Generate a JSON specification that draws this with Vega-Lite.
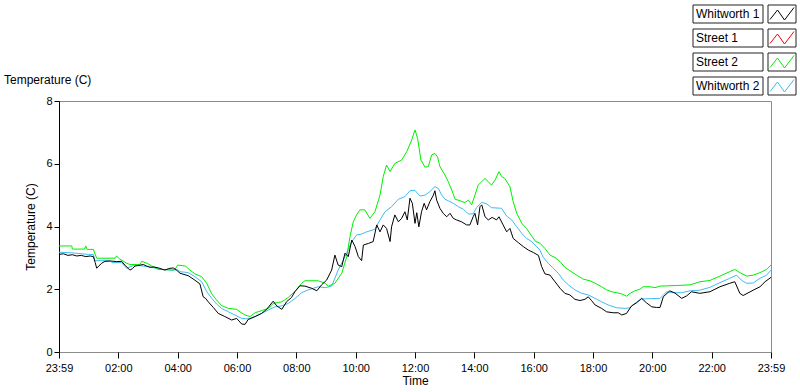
{
"$schema": "https://vega.github.io/schema/vega-lite/v6.json",
"width": 712, "height": 251,
"autosize": {"type": "none"},
"padding": {"left": 59, "top": 101, "right": 29, "bottom": 40},
"background": "white",
"config": {"view": {"stroke": "#8c8c8c", "strokeWidth": 1}, "font": "Liberation Sans"},
"title": {"text": "Temperature (C)", "anchor": "start", "frame": "group", "dx": -55, "dy": 91, "offset": 8, "fontSize": 12, "fontWeight": "normal", "font": "Liberation Sans", "color": "#000"},
"datasets": {
"w1": [[0,3.11],[0.15,3.13],[0.3,3.08],[0.45,3.1],[0.6,3.06],[0.75,3.08],[0.9,3.04],[1.05,3.06],[1.16,3.04],[1.22,2.85],[1.27,2.67],[1.35,2.75],[1.44,2.83],[1.55,2.89],[1.75,2.9],[1.95,2.88],[2.11,2.89],[2.22,2.77],[2.39,2.61],[2.48,2.66],[2.56,2.74],[2.7,2.76],[2.84,2.79],[2.95,2.74],[3.07,2.7],[3.2,2.71],[3.35,2.68],[3.57,2.61],[3.7,2.66],[3.85,2.68],[3.95,2.62],[4.08,2.51],[4.36,2.43],[4.58,2.29],[4.75,2.17],[4.86,1.76],[4.95,1.7],[5.03,1.6],[5.2,1.42],[5.37,1.23],[5.59,1.13],[5.82,1.02],[5.99,1.07],[6.16,0.89],[6.27,0.88],[6.38,1.04],[6.61,1.13],[6.83,1.23],[7.0,1.36],[7.22,1.62],[7.34,1.47],[7.51,1.36],[7.67,1.6],[7.84,1.74],[7.95,1.92],[8.12,2.11],[8.29,2.1],[8.52,2.03],[8.69,1.95],[8.85,2.14],[9.02,2.29],[9.19,2.61],[9.3,3.09],[9.41,2.77],[9.53,2.72],[9.64,3.15],[9.75,3.04],[9.87,3.57],[9.98,3.36],[10.09,3.04],[10.2,2.91],[10.26,3.41],[10.43,3.46],[10.59,3.52],[10.71,4.05],[10.82,3.83],[10.93,4.05],[11.04,3.94],[11.16,3.52],[11.21,3.99],[11.32,4.37],[11.44,4.15],[11.55,4.26],[11.66,4.47],[11.74,4.21],[11.83,4.9],[11.91,4.74],[12.0,4.1],[12.06,4.44],[12.13,3.99],[12.22,4.47],[12.31,4.74],[12.39,4.53],[12.5,4.79],[12.62,5.0],[12.67,5.14],[12.73,4.84],[12.84,4.58],[12.95,4.42],[13.07,4.31],[13.18,4.42],[13.29,4.26],[13.4,4.21],[13.57,4.15],[13.74,4.05],[13.85,4.05],[13.96,4.31],[14.02,4.42],[14.11,4.05],[14.19,4.63],[14.25,4.69],[14.36,4.31],[14.47,4.21],[14.6,4.29],[14.75,4.21],[14.83,4.31],[14.97,4.05],[15.09,3.83],[15.2,3.94],[15.31,3.62],[15.49,3.48],[15.65,3.36],[15.82,3.25],[15.99,3.17],[16.16,3.08],[16.27,2.72],[16.38,2.49],[16.55,2.45],[16.72,2.24],[16.89,2.03],[17.05,1.87],[17.22,1.82],[17.39,1.68],[17.56,1.64],[17.73,1.68],[17.84,1.76],[17.95,1.64],[18.07,1.5],[18.29,1.39],[18.46,1.28],[18.68,1.25],[18.85,1.25],[18.97,1.18],[19.13,1.23],[19.3,1.47],[19.47,1.57],[19.64,1.71],[19.8,1.57],[19.98,1.44],[20.14,1.42],[20.26,1.42],[20.37,1.76],[20.59,1.95],[20.76,1.88],[20.99,1.71],[21.16,1.79],[21.32,1.92],[21.6,1.87],[21.94,1.92],[22.28,2.08],[22.61,2.19],[22.78,2.24],[22.95,1.87],[23.06,1.8],[23.4,1.97],[23.63,2.08],[23.8,2.24],[24.0,2.38]],
"s2": [[0,3.38],[0.43,3.38],[0.45,3.28],[0.86,3.28],[0.9,3.38],[0.95,3.27],[1.16,3.27],[1.27,2.99],[1.9,2.99],[1.94,3.06],[2.05,2.96],[2.28,2.83],[2.39,2.79],[2.73,2.79],[2.79,2.89],[2.96,2.83],[3.12,2.75],[3.35,2.63],[3.57,2.63],[3.8,2.61],[3.91,2.63],[4.0,2.77],[4.27,2.74],[4.36,2.65],[4.58,2.49],[4.81,2.4],[4.98,2.19],[5.15,1.85],[5.31,1.66],[5.48,1.48],[5.71,1.39],[5.99,1.36],[6.1,1.28],[6.27,1.18],[6.44,1.13],[6.61,1.25],[6.83,1.32],[7.06,1.39],[7.22,1.55],[7.51,1.6],[7.73,1.74],[7.95,1.93],[8.18,2.19],[8.29,2.27],[8.74,2.27],[8.97,2.19],[9.08,2.1],[9.3,2.19],[9.53,2.51],[9.7,3.04],[9.81,3.68],[9.92,4.15],[10.03,4.37],[10.14,4.53],[10.31,4.53],[10.48,4.26],[10.65,4.47],[10.82,5.0],[10.93,5.59],[11.04,5.96],[11.16,5.75],[11.32,6.01],[11.55,6.12],[11.72,6.38],[11.89,6.76],[12.0,7.08],[12.09,6.8],[12.2,6.12],[12.34,5.89],[12.45,5.91],[12.56,6.28],[12.67,6.33],[12.76,6.22],[12.84,5.91],[13.01,5.64],[13.12,5.43],[13.24,5.16],[13.35,4.87],[13.52,4.82],[13.68,4.76],[13.8,4.84],[13.91,4.69],[14.02,5.0],[14.13,5.32],[14.25,5.43],[14.36,5.53],[14.47,5.43],[14.58,5.32],[14.7,5.48],[14.83,5.75],[14.92,5.59],[15.03,5.53],[15.2,5.27],[15.31,4.79],[15.43,4.42],[15.6,4.1],[15.76,3.94],[15.93,3.7],[16.07,3.52],[16.21,3.47],[16.38,3.3],[16.55,3.09],[16.72,3.01],[16.89,2.88],[17.05,2.7],[17.22,2.59],[17.45,2.45],[17.67,2.32],[17.9,2.27],[18.12,2.17],[18.29,2.08],[18.46,1.98],[18.63,1.92],[18.8,1.89],[18.97,1.85],[19.13,1.78],[19.25,1.87],[19.41,1.95],[19.58,2.0],[19.69,2.08],[19.92,2.08],[20.09,2.05],[20.26,2.1],[20.82,2.12],[21.27,2.14],[21.6,2.24],[21.94,2.28],[22.28,2.42],[22.61,2.56],[22.78,2.63],[22.95,2.53],[23.18,2.42],[23.4,2.45],[23.63,2.53],[23.85,2.63],[24.0,2.77]],
"w2": [[0,3.18],[0.43,3.16],[0.99,3.11],[1.16,3.11],[1.21,2.91],[1.72,2.91],[1.78,2.85],[2.11,2.85],[2.28,2.67],[2.56,2.77],[3.01,2.72],[3.46,2.63],[3.8,2.61],[4.0,2.62],[4.08,2.56],[4.36,2.53],[4.58,2.4],[4.81,2.24],[4.98,1.92],[5.15,1.71],[5.31,1.53],[5.48,1.39],[5.71,1.28],[5.93,1.18],[6.16,1.07],[6.44,1.05],[6.61,1.13],[6.83,1.23],[7.06,1.34],[7.28,1.44],[7.51,1.47],[7.73,1.55],[7.95,1.7],[8.18,1.89],[8.4,1.98],[8.74,2.08],[8.97,2.05],[9.19,2.1],[9.41,2.61],[9.64,3.04],[9.87,3.52],[10.03,3.73],[10.2,3.76],[10.37,3.83],[10.65,3.91],[10.82,4.21],[10.99,4.47],[11.21,4.63],[11.44,4.87],[11.66,4.95],[11.83,5.14],[12.0,5.15],[12.17,4.97],[12.34,5.0],[12.5,5.11],[12.67,5.27],[12.79,5.21],[12.9,5.0],[13.01,4.87],[13.12,4.82],[13.29,4.74],[13.46,4.63],[13.63,4.55],[13.8,4.4],[13.96,4.4],[14.08,4.61],[14.25,4.77],[14.42,4.72],[14.58,4.6],[14.92,4.58],[15.09,4.33],[15.26,4.21],[15.43,3.99],[15.6,3.78],[15.76,3.62],[15.93,3.52],[16.1,3.36],[16.21,3.25],[16.32,3.02],[16.49,2.83],[16.66,2.67],[16.83,2.51],[17.0,2.29],[17.17,2.14],[17.39,1.98],[17.62,1.87],[17.84,1.82],[18.07,1.71],[18.29,1.6],[18.51,1.5],[18.8,1.41],[19.08,1.39],[19.25,1.41],[19.41,1.55],[19.64,1.69],[20.26,1.71],[20.48,1.92],[20.7,1.89],[20.99,1.89],[21.27,1.95],[21.6,1.97],[21.94,2.06],[22.28,2.21],[22.61,2.35],[22.84,2.45],[23.0,2.29],[23.18,2.19],[23.4,2.2],[23.63,2.35],[23.85,2.45],[24.0,2.61]]
},
"layer": [
{
"data": {"name": "w2"},
"transform": [{"calculate": "'Whitworth 2'", "as": "s"}],
"mark": {"type": "line", "strokeWidth": 1},
"encoding": {
"x": {"field": "0", "type": "quantitative"},
"y": {"field": "1", "type": "quantitative"},
"color": {"field": "s", "type": "nominal", "scale": {"domain": ["Whitworth 1", "Street 1", "Street 2", "Whitworth 2"], "range": ["#000000", "#ff0000", "#00ee00", "#3cbcf5"]}, "legend": null}
}
},
{
"data": {"name": "s2"},
"transform": [{"calculate": "'Street 2'", "as": "s"}],
"mark": {"type": "line", "strokeWidth": 1},
"encoding": {
"x": {"field": "0", "type": "quantitative"},
"y": {"field": "1", "type": "quantitative"},
"color": {"field": "s", "type": "nominal", "scale": {"domain": ["Whitworth 1", "Street 1", "Street 2", "Whitworth 2"], "range": ["#000000", "#ff0000", "#00ee00", "#3cbcf5"]}, "legend": null}
}
},
{
"data": {"name": "w1"},
"transform": [{"calculate": "'Whitworth 1'", "as": "s"}],
"mark": {"type": "line", "strokeWidth": 1},
"encoding": {
"x": {"field": "0", "type": "quantitative", "scale": {"domain": [0, 24], "nice": false},
"axis": {"title": "Time", "values": [0,0.25,0.5,0.75,1,1.25,1.5,1.75,2,2.25,2.5,2.75,3,3.25,3.5,3.75,4,4.25,4.5,4.75,5,5.25,5.5,5.75,6,6.25,6.5,6.75,7,7.25,7.5,7.75,8,8.25,8.5,8.75,9,9.25,9.5,9.75,10,10.25,10.5,10.75,11,11.25,11.5,11.75,12,12.25,12.5,12.75,13,13.25,13.5,13.75,14,14.25,14.5,14.75,15,15.25,15.5,15.75,16,16.25,16.5,16.75,17,17.25,17.5,17.75,18,18.25,18.5,18.75,19,19.25,19.5,19.75,20,20.25,20.5,20.75,21,21.25,21.5,21.75,22,22.25,22.5,22.75,23,23.25,23.5,23.75,24],
"labelExpr": "datum.value == 0 || datum.value == 24 ? '23:59' : (datum.value % 2 == 0 ? (datum.value < 10 ? '0' : '') + datum.value + ':00' : '')",
"tickSize": {"condition": {"test": "datum.value % 2 == 0", "value": 6}, "value": 3},
"domain": false, "grid": false, "labelFlush": false, "labelOverlap": false, "labelFontSize": 11, "labelColor": "#000", "tickColor": "#000", "labelPadding": 4, "titleFontSize": 12, "titleFontWeight": "normal", "titleColor": "#000", "titlePadding": 2}},
"y": {"field": "1", "type": "quantitative", "scale": {"domain": [0, 8], "nice": false},
"axis": {"title": "Temperature (C)", "values": [0,1,2,3,4,5,6,7,8], "tickSize": 5, "domainColor": "#000", "tickColor": "#000", "grid": false, "labelFontSize": 11, "labelColor": "#000", "labelPadding": 2, "titleFontSize": 12, "titleFontWeight": "normal", "titleColor": "#000", "titlePadding": 8}},
"color": {"field": "s", "type": "nominal",
"scale": {"domain": ["Whitworth 1", "Street 1", "Street 2", "Whitworth 2"], "range": ["#000000", "#ff0000", "#00ee00", "#3cbcf5"]},
"legend": {"orient": "none", "legendX": 712.5, "legendY": -97.5, "title": null, "padding": 0, "offset": 0, "rowPadding": 1,
"symbolType": "M-8.9,-0.9 M1.4,0.9 M-1.2,0.55L-0.45,-0.4L0.25,0.6L1.2,-0.65", "symbolSize": 400, "symbolStrokeWidth": 1, "symbolFillColor": "transparent", "labelOffset": -96.5, "labelFontSize": 12, "labelFont": "Liberation Sans", "labelColor": "#000", "labelLimit": 0}}
}
},
{
"data": {"name": "w1"},
"transform": [{"filter": "false"}, {"calculate": "'x'", "as": "s"}],
"mark": {"type": "line"},
"encoding": {
"x": {"field": "0", "type": "quantitative"},
"y": {"field": "1", "type": "quantitative"},
"color": {"field": "s", "type": "nominal",
"scale": {"domain": ["Whitworth 1", "Street 1", "Street 2", "Whitworth 2"], "range": ["#222222", "#222222", "#222222", "#222222"]},
"legend": {"orient": "none", "legendX": 712.5, "legendY": -97.5, "title": null, "padding": 0, "offset": 0, "rowPadding": 1,
"symbolType": "M-8.9,-0.9H-1.9V0.9H-8.9Z M-1.4,-0.9H1.4V0.9H-1.4Z", "symbolSize": 400, "symbolStrokeWidth": 1, "symbolFillColor": "transparent", "labelExpr": "''"}}
}
}
],
"resolve": {"scale": {"color": "independent"}, "legend": {"color": "independent"}}
}
